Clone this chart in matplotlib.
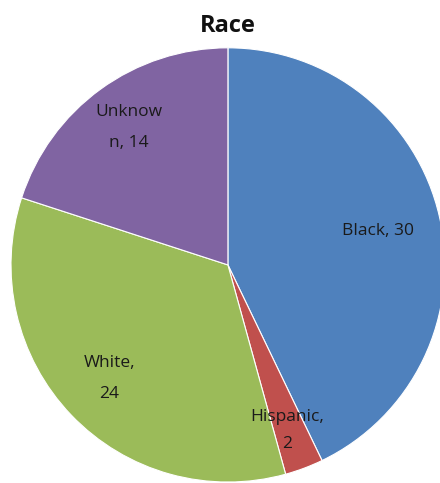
import numpy as np
import matplotlib
matplotlib.use("Agg")
import matplotlib.pyplot as plt

# race breakdown
categories = ["Black", "Hispanic", "White", "Unknown"]
counts = [30, 2, 24, 14]
label_texts = ["Black, 30", "Hispanic,\n2", "White,\n24", "Unknow\nn, 14"]

colors = ["#4F81BD", "#C0504D", "#9BBB59", "#8064A2"]
# radial placement of each data label (fraction of radius, angle nudge in degrees)
label_r = [0.71, 0.81, 0.755, 0.78]
label_nudge = [-0.3, -1.0, 0.0, 0.0]
label_spacing = [1.6, 1.95, 2.25, 2.25]

plt.rcParams["font.family"] = ["Open Sans", "DejaVu Sans"]

fig = plt.figure(figsize=(4.40, 4.83), dpi=100)
ax = fig.add_axes([0.025, 0.002, 0.986, 0.899])
wedges, _ = ax.pie(counts, colors=colors, startangle=90, counterclock=False,
                   wedgeprops=dict(edgecolor="white", linewidth=0.8))
ax.set_aspect("auto")
ax.set_xlim(-1, 1)
ax.set_ylim(-1, 1)

for w, txt, r, dn, ls in zip(wedges, label_texts, label_r, label_nudge, label_spacing):
    ang = np.deg2rad((w.theta1 + w.theta2) / 2 + dn)
    ax.text(r * np.cos(ang), r * np.sin(ang), txt, ha="center", va="center",
            fontsize=12.5, color="#1a1a1a", linespacing=ls)

fig.text(0.518, 0.947, "Race", ha="center", va="center",
         fontsize=17, fontweight="bold", color="#111111")

fig.savefig("out.png", dpi=100)
